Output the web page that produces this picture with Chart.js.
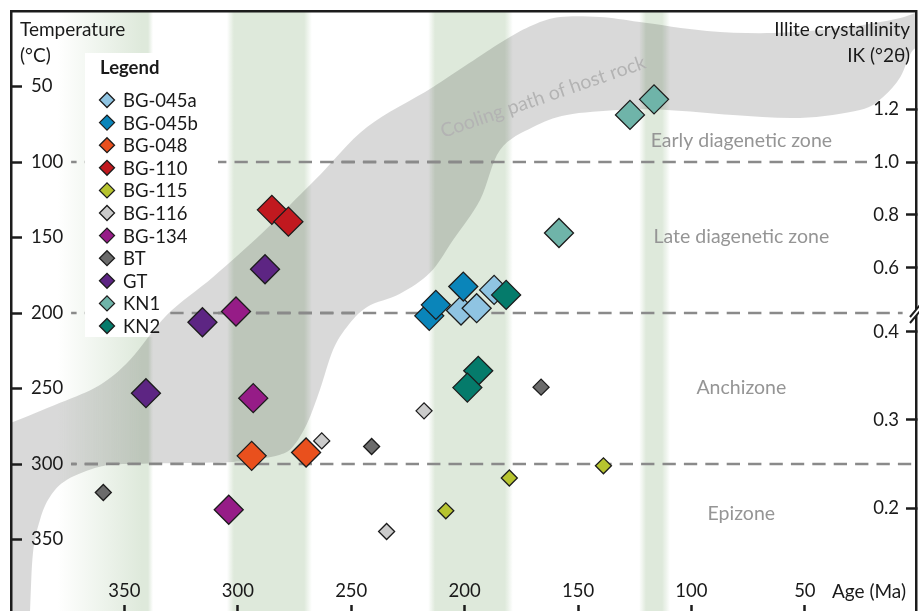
<!DOCTYPE html>
<html>
<head>
<meta charset="utf-8">
<script src="https://cdn.jsdelivr.net/npm/chart.js@4.4.1/dist/chart.umd.min.js"></script>
<style>
  html, body { margin: 0; padding: 0; background: #fff; overflow: hidden; }
  #wrap { width: 919px; height: 650px; }
</style>
</head>
<body>
<div id="wrap"><canvas id="c" width="919" height="650"></canvas></div>
<script>
// ---- Samples: age (Ma) and temperature (°C) ----
const seriesNames = ['BG-045a', 'BG-045b', 'BG-048', 'BG-110', 'BG-115', 'BG-116', 'BG-134', 'BT', 'GT', 'KN1', 'KN2'];

const ageBG045a = [187.0, 201.6, 194.7];
const tempBG045a = [184.7, 198.4, 196.8];
const ageBG045b = [200.6, 215.6, 212.7];
const tempBG045b = [182.5, 201.9, 194.6];
const ageBG048 = [293.9, 269.9];
const tempBG048 = [294.6, 292.4];
const ageBG110 = [285.0, 277.7];
const tempBG110 = [131.7, 139.5];
const ageBG115 = [208.3, 180.3, 138.8];
const tempBG115 = [331.0, 309.3, 301.2];
const ageBG116 = [263.0, 217.9, 234.4];
const tempBG116 = [284.7, 264.8, 344.7];
const ageBG134 = [300.8, 293.2, 304.0];
const tempBG134 = [199.0, 256.4, 330.3];
const ageBT = [359.3, 241.0, 166.3];
const tempBT = [318.9, 288.4, 249.1];
const ageGT = [288.0, 315.6, 340.5];
const tempGT = [171.0, 206.1, 253.1];
const ageKN1 = [127.1, 116.5, 158.4];
const tempKN1 = [68.8, 58.5, 147.0];
const ageKN2 = [181.7, 194.0, 198.8];
const tempKN2 = [188.0, 238.3, 249.4];

const seriesAges = [ageBG045a, ageBG045b, ageBG048, ageBG110, ageBG115, ageBG116, ageBG134, ageBT, ageGT, ageKN1, ageKN2];
const seriesTemps = [tempBG045a, tempBG045b, tempBG048, tempBG110, tempBG115, tempBG116, tempBG134, tempBT, tempGT, tempKN1, tempKN2];

// ---- Axis ticks ----
const ageTicks = [350, 300, 250, 200, 150, 100, 50];
const tempTicks = [50, 100, 150, 200, 250, 300, 350];
const ikTickLabels = ['1.2', '1.0', '0.8', '0.6', '0.4', '0.3', '0.2'];

// Illite crystallinity (IK, °2θ) expressed on the temperature scale:
// two linear segments joined at the axis break (IK 0.42 ≈ 200 °C).
function ikToTemp(ik) {
  return ik >= 0.5 ? 100 - (ik - 1.0) * 175 : 300 - (ik - 0.25) * 583.3;
}

// ---- Metamorphic zones ----
const zoneLimits = [100, 200, 300];
const zoneLimitStartAge = 373.5;
const zoneLimitEndAge = [22.6, 6.9, 1];
const zoneNames = ['Early diagenetic zone', 'Late diagenetic zone', 'Anchizone', 'Epizone'];
const zoneLabelAge = 78;
const zoneLabelTemp = [86, 149.6, 249.6, 333];

// ---- Time windows (Ma) ----
const windowOld = [380, 304.8, 216.1, 123.1];
const windowYoung = [337.4, 267.3, 178.7, 109.4];

// ---- Cooling path of the host rock: outline (age, temperature) ----
const pathAge = [412, 412, 400, 378.4, 360.8, 347.5, 331.2, 310.9, 290.2, 277.0, 263.8, 243.0, 213.9, 184.4, 169.8, 157.9, 140.3, 122.7, 93.1, 64.0, 34.5, 7.9, -5, -9,
                 -6, 2.3, 7.9, 15.5, 25.7, 52.1, 81.7, 110.8, 131.5, 154.9, 169.8, 184.4, 193.2, 205.1, 215.3, 228.5, 243.0, 251.9, 258.0, 263.8, 269.5, 275.7, 281.4, 290.2, 302.1, 346.2, 360.8, 375.3, 382.8, 387.2, 390.3, 391.6, 392.5];
const pathTemp = [425, 278, 272.7, 259.5, 247.6, 231.0, 201.2, 176.1, 148.3, 128.4, 108.6, 76.8, 50.3, 21.2, 9.3, 4.0, 4.0, 7.3, 13.2, 14.6, 11.3, 4.6, -2, 6,
                  22, 25.8, 43.7, 56.9, 65.5, 70.8, 68.8, 65.5, 65.5, 68.8, 76.8, 92.0, 125.1, 151.6, 173.4, 187.3, 196.0, 209.2, 224.4, 250.9, 273.4, 288.6, 293.9, 296.6, 298.6, 299.9, 301.9, 310.5, 321.7, 336.9, 358.8, 397.2, 425];

// ---- Styles ----
const seriesColors = ['#8fc4e2', '#0a85ba', '#e9501d', '#c1191f', '#b7c42f', '#cbcbcb', '#961c87', '#6b6b6b', '#5d2583', '#6fb4a9', '#057b6b'];
const seriesRadius = [14.5, 14.5, 14.5, 14.5, 8, 8, 14.5, 8, 14.5, 14.5, 14.5];
const FONT = 'Lato';
const INK = '#1a1a1a';
const ZONE_INK = '#959595';
const GREEN = [222, 233, 219];

const datasets = seriesNames.map((name, i) => ({
  label: name,
  data: seriesAges[i].map((a, j) => ({ x: a, y: seriesTemps[i][j] })),
  pointStyle: 'rectRot',
  pointRadius: seriesRadius[i],
  backgroundColor: seriesColors[i],
  borderColor: '#1c1c1c',
  borderWidth: 1.3,
  showLine: false,
  order: seriesNames.length - i
}));

function smoothClosed(ctx, pts) {
  const n = pts.length;
  ctx.moveTo(pts[0][0], pts[0][1]);
  for (let i = 0; i < n; i++) {
    const p0 = pts[(i - 1 + n) % n], p1 = pts[i], p2 = pts[(i + 1) % n], p3 = pts[(i + 2) % n];
    const t = 1 / 6;
    ctx.bezierCurveTo(p1[0] + (p2[0] - p0[0]) * t, p1[1] + (p2[1] - p0[1]) * t,
                      p2[0] - (p3[0] - p1[0]) * t, p2[1] - (p3[1] - p1[1]) * t, p2[0], p2[1]);
  }
  ctx.closePath();
}

const legendBox = { left: 85, top: 53, right: 218, bottom: 337 };

function drawZoneLimits(ctx, x, y) {
  ctx.save();
  ctx.strokeStyle = '#8a8a8a';
  ctx.lineWidth = 2.6;
  ctx.setLineDash([13.3, 8.1]);
  zoneLimits.forEach((t, i) => {
    const x0 = x.getPixelForValue(zoneLimitStartAge);
    ctx.lineDashOffset = 7.8;
    ctx.beginPath();
    ctx.moveTo(x0, y.getPixelForValue(t));
    ctx.lineTo(x.getPixelForValue(zoneLimitEndAge[i]), y.getPixelForValue(t));
    ctx.stroke();
  });
  ctx.restore();
}

const backdrop = {
  id: 'backdrop',
  beforeDraw(chart) {
    const { ctx, chartArea: ca } = chart;
    const x = chart.scales.x, y = chart.scales.y;
    ctx.save();
    ctx.beginPath();
    ctx.rect(ca.left, ca.top, ca.right - ca.left, ca.bottom - ca.top);
    ctx.clip();

    // time windows
    windowOld.forEach((a, i) => {
      const xl = x.getPixelForValue(a), xr = x.getPixelForValue(windowYoung[i]);
      const w = xr - xl;
      const fadeL = i === 0 ? 85 : 7, fadeR = i === 0 ? 5 : 8;
      const g = ctx.createLinearGradient(xl, 0, xr, 0);
      const c = GREEN.join(',');
      g.addColorStop(0, `rgba(${c},0)`);
      g.addColorStop(fadeL / w, `rgba(${c},1)`);
      g.addColorStop(1 - fadeR / w, `rgba(${c},1)`);
      g.addColorStop(1, `rgba(${c},0)`);
      ctx.fillStyle = g;
      ctx.fillRect(xl, ca.top, w, ca.bottom - ca.top);
    });

    drawZoneLimits(ctx, x, y);

    // legend panel
    ctx.fillStyle = '#ffffff';
    ctx.fillRect(legendBox.left, legendBox.top, legendBox.right - legendBox.left, legendBox.bottom - legendBox.top);

    // cooling path band
    const pts = pathAge.map((a, i) => [x.getPixelForValue(a), y.getPixelForValue(pathTemp[i])]);
    ctx.beginPath();
    smoothClosed(ctx, pts);
    ctx.fillStyle = 'rgba(0,0,0,0.15)';
    ctx.fill();

    // limits stay visible across the band
    ctx.save();
    ctx.beginPath();
    smoothClosed(ctx, pts);
    ctx.clip();
    drawZoneLimits(ctx, x, y);
    ctx.restore();

    // zone names
    ctx.fillStyle = ZONE_INK;
    ctx.font = `19.5px ${FONT}`;
    ctx.textAlign = 'center';
    ctx.textBaseline = 'middle';
    zoneNames.forEach((n, i) => {
      ctx.fillText(n, x.getPixelForValue(zoneLabelAge), y.getPixelForValue(zoneLabelTemp[i]));
    });

    // band caption
    ctx.save();
    ctx.translate(x.getPixelForValue(165.4), y.getPixelForValue(56.9));
    ctx.rotate(-19 * Math.PI / 180);
    ctx.fillStyle = '#b3b3b3';
    ctx.fillText('Cooling path of host rock', 0, 0);
    ctx.restore();

    ctx.restore();

    // legend entries
    ctx.save();
    ctx.fillStyle = INK;
    ctx.textAlign = 'left';
    ctx.textBaseline = 'middle';
    ctx.font = `bold 18.5px ${FONT}`;
    ctx.fillText('Legend', 100, 68);
    ctx.font = `18.5px ${FONT}`;
    chart.data.datasets.forEach((ds, i) => {
      const cy = 100 + i * 22.6;
      ctx.fillStyle = ds.backgroundColor;
      ctx.strokeStyle = ds.borderColor;
      ctx.lineWidth = 1.3;
      Chart.helpers.drawPoint(ctx, { pointStyle: 'rectRot', radius: 7.5, rotation: 0, borderWidth: 1.3 }, 107, cy);
      ctx.fillStyle = INK;
      ctx.fillText(ds.label, 123, cy + 1);
    });
    ctx.restore();
  },
  afterDraw(chart) {
    const { ctx, chartArea: ca } = chart;
    ctx.save();
    ctx.fillStyle = INK;
    ctx.font = `19px ${FONT}`;
    ctx.textBaseline = 'alphabetic';
    ctx.textAlign = 'left';
    ctx.fillText('Temperature', 20, 35.5);
    ctx.fillText('(°C)', 20, 61.5);
    ctx.textAlign = 'right';
    ctx.fillText('Illite crystallinity', 910, 35.5);
    ctx.fillText('IK (°2θ)', 910, 61.5);
    ctx.fillText('Age (Ma)', 906, 598);

    // break mark on the IK axis
    const yb = chart.scales.y2.getPixelForValue(200);
    const xr = ca.right;
    ctx.fillStyle = '#ffffff';
    ctx.beginPath();
    ctx.moveTo(xr - 6, yb + 4);
    ctx.lineTo(xr + 4, yb - 8);
    ctx.lineTo(xr + 4, yb - 2);
    ctx.lineTo(xr - 6, yb + 10);
    ctx.closePath();
    ctx.fill();
    ctx.strokeStyle = '#1c1c1c';
    ctx.lineWidth = 2;
    ctx.beginPath();
    ctx.moveTo(xr - 6, yb + 4); ctx.lineTo(xr + 4, yb - 8);
    ctx.moveTo(xr - 6, yb + 10); ctx.lineTo(xr + 4, yb - 2);
    ctx.stroke();
    ctx.restore();
  }
};

const tickFont = { family: FONT, size: 18.5 };
const axisGrid = (len) => ({ drawOnChartArea: false, drawTicks: true, tickLength: len, tickWidth: 2.5, tickColor: '#1c1c1c' });
const axisBorder = { display: true, width: 2.5, color: '#1c1c1c' };
// axes take no room of their own: ticks and labels sit inside the frame
const flat = (vertical) => (s) => {
  if (vertical) s.width = 0; else s.height = 0;
  s.paddingLeft = 0; s.paddingRight = 0; s.paddingTop = 0; s.paddingBottom = 0;
};

new Chart(document.getElementById('c'), {
  type: 'scatter',
  data: { datasets },
  options: {
    responsive: false,
    animation: false,
    events: [],
    devicePixelRatio: 1,
    layout: { autoPadding: false, padding: { left: 11, top: 11, right: 3, bottom: 35 } },
    plugins: { legend: { display: false }, tooltip: { enabled: false } },
    scales: {
      x: {
        type: 'linear', position: 'bottom', reverse: true, min: 1, max: 400,
        afterFit: flat(false),
        afterBuildTicks: (s) => { s.ticks = ageTicks.map(v => ({ value: v })); },
        ticks: { mirror: true, autoSkip: false, maxRotation: 0, padding: 13, font: tickFont, color: INK, callback: (v) => String(v) },
        grid: axisGrid(-10),
        border: axisBorder
      },
      xTop: {
        type: 'linear', position: 'top', reverse: true, min: 1, max: 400,
        afterFit: flat(false),
        ticks: { display: false },
        grid: { display: false },
        border: axisBorder
      },
      y: {
        type: 'linear', position: 'left', reverse: true, min: 0, max: 400,
        afterFit: flat(true),
        afterBuildTicks: (s) => { s.ticks = tempTicks.map(v => ({ value: v })); },
        ticks: { mirror: true, padding: 20, autoSkip: false, font: tickFont, color: INK, callback: (v) => String(v) },
        grid: axisGrid(-11),
        border: axisBorder
      },
      y2: {
        type: 'linear', position: 'right', reverse: true, min: 0, max: 400,
        afterFit: flat(true),
        afterBuildTicks: (s) => { s.ticks = ikTickLabels.map(l => ({ value: ikToTemp(parseFloat(l)) })); },
        ticks: { mirror: true, padding: -17, autoSkip: false, font: tickFont, color: INK, callback: (v, i) => ikTickLabels[i] },
        grid: axisGrid(-10),
        border: axisBorder
      }
    }
  },
  plugins: [backdrop]
});
</script>
</body>
</html>
